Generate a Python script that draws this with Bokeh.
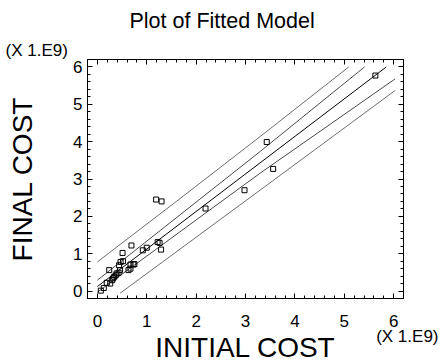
from bokeh.plotting import figure
from bokeh.models import Range1d, LinearAxis, SingleIntervalTicker, Title, CustomJSTickFormatter
from bokeh.embed import file_html
from bokeh.resources import INLINE

# data (units of 1e9)
initial_cost = [0.07, 0.13, 0.19, 0.24, 0.26, 0.30, 0.32, 0.34, 0.37, 0.39, 0.43, 0.46,
                0.44, 0.47, 0.52, 0.51, 0.69, 0.63, 0.67, 0.67, 0.73, 0.75, 0.92, 1.00,
                1.19, 1.30, 1.22, 1.26, 1.29, 2.19, 2.98, 3.43, 3.56, 5.63]
final_cost = [0.01, 0.08, 0.22, 0.56, 0.20, 0.29, 0.34, 0.38, 0.42, 0.47, 0.49, 0.56,
              0.69, 0.78, 0.80, 1.02, 1.22, 0.56, 0.60, 0.71, 0.71, 0.72, 1.09, 1.16,
              2.45, 2.40, 1.31, 1.29, 1.11, 2.21, 2.70, 3.99, 3.27, 5.77]

fit_x = [0.0, 5.85]
fit_y = [0.12, 6.0]
conf_upper_x = [0.0, 3.30, 5.41]
conf_upper_y = [0.29, 3.74, 6.0]
conf_lower_x = [0.0, 3.30, 6.03]
conf_lower_y = [-0.03, 3.16, 5.68]
pred_upper_x = [0.0, 1.61, 3.30, 5.09]
pred_upper_y = [0.78, 2.41, 4.14, 6.0]
pred_lower_x = [0.46, 3.54, 6.03]
pred_lower_y = [-0.06, 2.94, 5.37]

FONT = "Liberation Sans"

p = figure(width=442, height=364, output_backend="svg", toolbar_location=None,
           x_range=Range1d(-0.2, 6.2), y_range=Range1d(-0.2, 6.2),
           x_axis_location=None, y_axis_location=None,
           min_border_left=87, min_border_right=39, min_border_top=57, min_border_bottom=66)
p.xgrid.visible = False
p.ygrid.visible = False
p.outline_line_color = "black"
p.outline_line_width = 1

p.title.text = "Plot of Fitted Model"
p.title.align = "left"
p.title.offset = 42
p.title.text_font = FONT
p.title.text_font_size = "21.5px"
p.title.text_font_style = "normal"
p.title.text_color = "#000000"
p.title.standoff = 12


def style_axis(ax, labels=True):
    ax.ticker = SingleIntervalTicker(interval=1, num_minor_ticks=5)
    ax.axis_line_color = "black"
    ax.major_tick_in = 5
    ax.major_tick_out = 0
    ax.minor_tick_in = 3
    ax.minor_tick_out = 0
    ax.major_tick_line_color = "black"
    ax.minor_tick_line_color = "black"
    ax.major_label_text_font = FONT
    ax.major_label_text_font_size = "17px"
    ax.major_label_text_color = "black"
    ax.axis_label_text_font = FONT
    ax.axis_label_text_font_size = "28px"
    ax.axis_label_text_font_style = "normal"
    ax.axis_label_text_color = "black"
    if not labels:
        ax.formatter = CustomJSTickFormatter(code="return ''")
        ax.major_label_standoff = 0


xb = LinearAxis()
style_axis(xb)
xb.major_label_standoff = 16
p.add_layout(xb, "below")

yl = LinearAxis(axis_label="FINAL COST")
style_axis(yl)
yl.major_label_standoff = 5
yl.axis_label_standoff = 32
yl.major_label_orientation = "horizontal"
p.add_layout(yl, "left")

xt = LinearAxis()
style_axis(xt, labels=False)
p.add_layout(xt, "above")

yr = LinearAxis()
style_axis(yr, labels=False)
p.add_layout(yr, "right")

# multiplier notes and x-axis title
p.add_layout(Title(text="(X 1.E9)", align="left", offset=-82, standoff=0,
                   text_font=FONT, text_font_size="17px", text_font_style="normal",
                   text_color="black"), "above")
p.add_layout(Title(text="(X 1.E9)", align="right", offset=-35, standoff=-5,
                   vertical_align="top",
                   text_font=FONT, text_font_size="17px", text_font_style="normal",
                   text_color="black"), "below")
p.add_layout(Title(text="INITIAL COST", align="center", standoff=-28,
                   vertical_align="top",
                   text_font=FONT, text_font_size="28px", text_font_style="normal",
                   text_color="black"), "below")

# bands
p.line(pred_upper_x, pred_upper_y, line_color="#6e6e6e", line_width=1)
p.line(pred_lower_x, pred_lower_y, line_color="#6e6e6e", line_width=1)
p.line(conf_upper_x, conf_upper_y, line_color="#4a4a4a", line_width=1)
p.line(conf_lower_x, conf_lower_y, line_color="#4a4a4a", line_width=1)
p.line(fit_x, fit_y, line_color="#000000", line_width=1)

p.scatter(initial_cost, final_cost, marker="square", size=5, fill_color=None,
          line_color="black", line_width=1)

open("out.html", "w").write(file_html(p, INLINE))
